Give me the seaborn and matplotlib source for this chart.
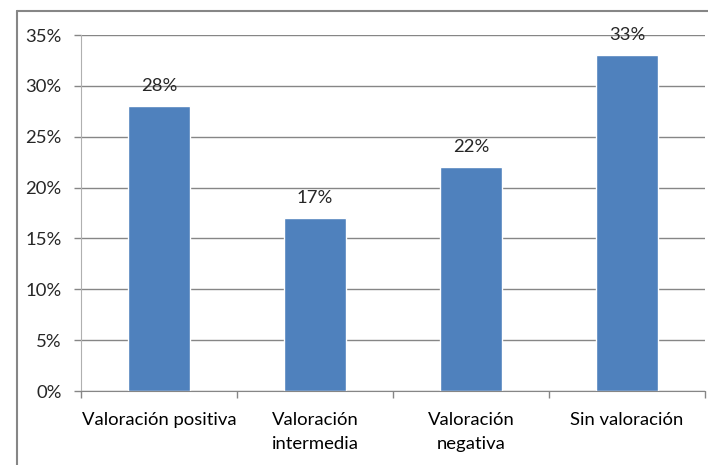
import numpy as np
import pandas as pd
import matplotlib
matplotlib.use('Agg')
import matplotlib.pyplot as plt
import seaborn as sns
from matplotlib.lines import Line2D
from matplotlib.ticker import FuncFormatter, FixedLocator

# datos
categorias = ['Valoración positiva', 'Valoración\nintermedia', 'Valoración\nnegativa', 'Sin valoración']
porcentajes = [28, 17, 22, 33]
etiquetas = ['28%', '17%', '22%', '33%']

sns.set_style('white')
plt.rcParams['font.family'] = ['Lato', 'DejaVu Sans']

df = pd.DataFrame({'categoria': categorias, 'valor': porcentajes})

fig = plt.figure(figsize=(7.08, 4.65), dpi=100)
ax = fig.add_axes([81 / 708, 74 / 465, 624 / 708, 356 / 465])

sns.barplot(data=df, x='categoria', y='valor', color='#4F81BD', width=0.4,
            saturation=1, ax=ax, zorder=3)

ax.set_ylim(0, 35)
ax.set_xlim(-0.5, 3.5)
ax.set_yticks(np.arange(0, 36, 5))
ax.yaxis.set_major_formatter(FuncFormatter(lambda v, p: f'{int(v)}%'))
ax.yaxis.grid(True, color='#868686', linewidth=1, zorder=0)
ax.set_xlabel('')
ax.set_ylabel('')

# ticks del eje x en los limites de categoria
ax.set_xticks(range(len(categorias)))
ax.set_xticklabels(categorias, linespacing=1.6)
ax.xaxis.set_minor_locator(FixedLocator(np.arange(-0.5, 4, 1)))
ax.tick_params(axis='x', which='major', length=0, pad=15, labelsize=13.3, colors='black')
ax.tick_params(axis='x', which='minor', length=5, width=1, color='#868686', direction='out', bottom=True)
ax.tick_params(axis='y', length=5, width=1, color='#868686', direction='out', left=True,
               labelsize=13.3, pad=9)

for s in ['top', 'right']:
    ax.spines[s].set_visible(False)
ax.spines['left'].set_color('#b0b0b0')
ax.spines['bottom'].set_color('#868686')
ax.spines['bottom'].set_zorder(4)

# etiquetas de valor
ax.bar_label(ax.containers[0], labels=etiquetas, padding=9, fontsize=13.3)

# marco exterior (solo izquierda y arriba visibles)
fig.add_artist(Line2D([17 / 708, 17 / 708], [0, 1 - 11 / 465], color='#868686', lw=1.5))
fig.add_artist(Line2D([17 / 708, 1], [1 - 11 / 465, 1 - 11 / 465], color='#868686', lw=1.5))

fig.savefig('out.png', dpi=100)
